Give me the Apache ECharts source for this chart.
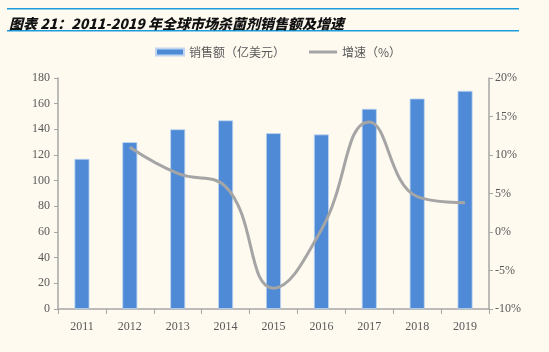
<!DOCTYPE html>
<html><head><meta charset="utf-8">
<script src="https://cdn.jsdelivr.net/npm/echarts@6/dist/echarts.min.js"></script>
<style>html,body{margin:0;padding:0;background:#FEFAF0}#c{width:549px;height:352px}</style>
</head><body><div id="c"></div>
<script>
const years = ['2011','2012','2013','2014','2015','2016','2017','2018','2019'];
const sales = [117, 130, 140, 147, 137, 136, 156, 164, 170];
const growth = [null, 11.0, 7.6, 5.9, -7.3, 0.3, 14.3, 4.6, 3.8];
const leftTicks = [0, 180, 20];
const rightTicks = [-10, 20, 5];

const chart = echarts.init(document.getElementById('c'));
const axisFont = {fontFamily: '"Liberation Serif", "Times New Roman", serif', fontSize: 12, color: '#595959'};
chart.setOption({
  backgroundColor: '#FEFAF0',
  animation: false,
  title: {
    text: '图表 21：2011-2019 年全球市场杀菌剂销售额及增速',
    left: 4, top: 12,
    textStyle: {fontFamily: '"Noto Sans CJK SC", sans-serif', fontSize: 14, fontWeight: 900, fontStyle: 'italic', color: '#111'}
  },
  graphic: [
    {type: 'rect', shape: {x: 7, y: 8, width: 512, height: 1.5}, style: {fill: '#1C9CDB'}},
    {type: 'rect', shape: {x: 7, y: 30, width: 512, height: 1.5}, style: {fill: '#1C9CDB'}}
  ],
  legend: {
    top: 46, left: 155, padding: 0, itemGap: 24, itemWidth: 28, itemHeight: 7,
    textStyle: {fontFamily: '"Noto Sans CJK SC", serif', fontSize: 12, color: '#595959'},
    data: [
      {name: '销售额（亿美元）', icon: 'rect'},
      {name: '增速（%）', icon: 'path://M0,0 L28,0 L28,3 L0,3 Z'}
    ]
  },
  grid: {left: 58, right: 60, top: 78, bottom: 43},
  xAxis: {
    type: 'category', data: years, boundaryGap: true,
    axisLine: {lineStyle: {color: '#A6A6A6', width: 1.5}},
    axisTick: {show: true, alignWithLabel: false, length: 5, lineStyle: {color: '#A6A6A6'}},
    axisLabel: Object.assign({margin: 12}, axisFont)
  },
  yAxis: [
    {
      type: 'value', min: leftTicks[0], max: leftTicks[1], interval: leftTicks[2],
      axisLine: {show: true, lineStyle: {color: '#A6A6A6', width: 1.5}},
      axisTick: {show: true, length: 4, lineStyle: {color: '#A6A6A6'}},
      splitLine: {show: false},
      axisLabel: Object.assign({margin: 8}, axisFont)
    },
    {
      type: 'value', min: rightTicks[0], max: rightTicks[1], interval: rightTicks[2],
      position: 'right',
      axisLine: {show: true, lineStyle: {color: '#A6A6A6', width: 1.5}},
      axisTick: {show: true, length: 4, lineStyle: {color: '#A6A6A6'}},
      splitLine: {show: false},
      axisLabel: Object.assign({margin: 6, formatter: '{value}%'}, axisFont)
    }
  ],
  series: [
    {
      name: '销售额（亿美元）', type: 'bar', data: sales, barWidth: 15,
      itemStyle: {color: '#4F8AD6', borderColor: '#BFD5F0', borderWidth: 0.8}
    },
    {
      name: '增速（%）', type: 'line', yAxisIndex: 1, data: growth, smooth: 0.45,
      symbol: 'none', connectNulls: false,
      lineStyle: {color: '#A5A5A5', width: 3}, itemStyle: {color: '#A5A5A5'}
    }
  ]
});
</script></body></html>
